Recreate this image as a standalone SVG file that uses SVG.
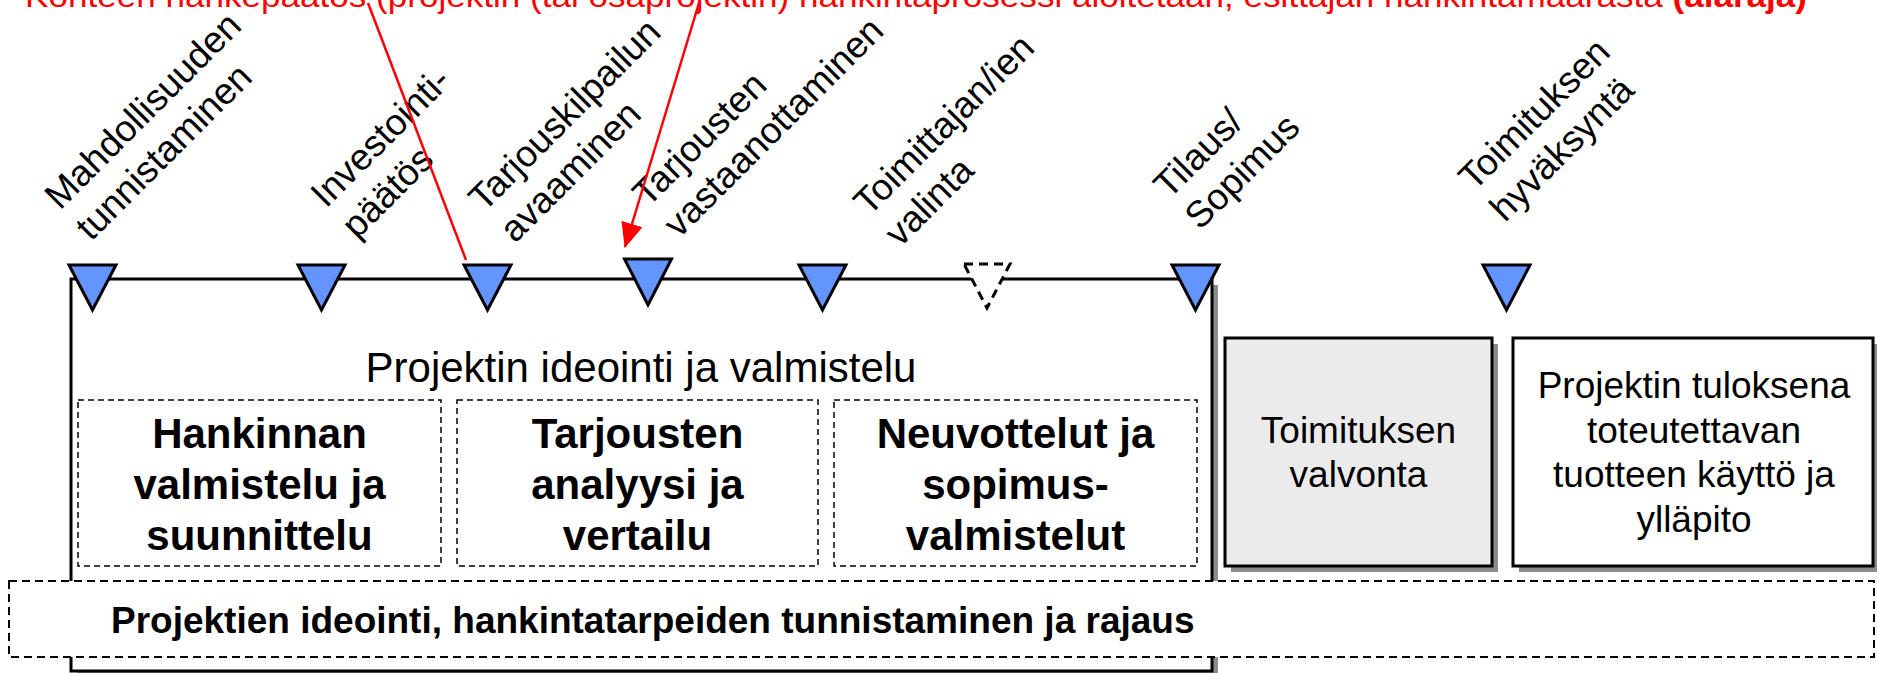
<svg xmlns="http://www.w3.org/2000/svg" width="1877" height="673" viewBox="0 0 1877 673">
  <style>
    text { font-family: "Liberation Sans", Arial, sans-serif; fill: #000; }
    .lbl { font-size: 37px; }
    .big { font-size: 42px; font-weight: bold; text-anchor: middle; }
    .mid { font-size: 37px; text-anchor: middle; }
    .ms { fill: #6495ff; stroke: #000; stroke-width: 3; stroke-linejoin: miter; }
    .ms-open { fill: #fff; stroke: #000; stroke-width: 3; stroke-dasharray: 9 6; }
    .frame { fill: #fff; stroke: #000; stroke-width: 3; }
    .shadow { fill: #8c8c8c; }
    .phase { fill: none; stroke: #000; stroke-width: 1.5; stroke-dasharray: 6 4; }
    .band { fill: #fff; stroke: #000; stroke-width: 2; stroke-dasharray: 8 5; }
    .note { stroke: #ff0000; stroke-width: 2.5; fill: none; }
  </style>
  <defs>
    <marker id="redHead" viewBox="0 0 25 22" refX="24" refY="11" markerWidth="25" markerHeight="22" orient="auto" markerUnits="userSpaceOnUse">
      <path d="M0,0 L25,11 L0,22 z" fill="#ff0000"/>
    </marker>
  </defs>

  <rect width="1877" height="673" fill="#fff"/>

  <!-- red note along the top edge -->
  <text x="25" y="7" font-size="32" style="fill:#ff0000" textLength="1782" lengthAdjust="spacingAndGlyphs">Kohteen hankepäätös (projektin (tai osaprojektin) hankintaprosessi aloitetaan, esittäjän hankintamäärästä <tspan font-weight="bold">(alaraja)</tspan></text>

  <!-- main phase frame -->
  <g id="phase-frame">
    <rect class="shadow" x="77" y="285" width="1141" height="392"/>
    <rect class="frame" x="71" y="279" width="1141" height="392"/>
    <text x="641" y="382" font-size="42" text-anchor="middle">Projektin ideointi ja valmistelu</text>
  </g>

  <g id="box-hankinnan">
    <rect class="phase" x="78" y="400" width="363" height="166"/>
    <text class="big"><tspan x="259.5" y="448">Hankinnan</tspan><tspan x="259.5" y="499">valmistelu ja</tspan><tspan x="259.5" y="550">suunnittelu</tspan></text>
  </g>
  <g id="box-tarjousten">
    <rect class="phase" x="457" y="400" width="361" height="166"/>
    <text class="big"><tspan x="637.5" y="448">Tarjousten</tspan><tspan x="637.5" y="499">analyysi ja</tspan><tspan x="637.5" y="550">vertailu</tspan></text>
  </g>
  <g id="box-neuvottelut">
    <rect class="phase" x="834" y="400" width="363" height="166"/>
    <text class="big"><tspan x="1015.5" y="448">Neuvottelut ja</tspan><tspan x="1015.5" y="499">sopimus-</tspan><tspan x="1015.5" y="550">valmistelut</tspan></text>
  </g>

  <g id="box-valvonta">
    <rect class="shadow" x="1231" y="344" width="267" height="228"/>
    <rect x="1225" y="338" width="267" height="228" fill="#ebebeb" stroke="#000" stroke-width="3"/>
    <text class="mid"><tspan x="1358.5" y="443">Toimituksen</tspan><tspan x="1358.5" y="487">valvonta</tspan></text>
  </g>
  <g id="box-kaytto">
    <rect class="shadow" x="1519" y="344" width="360" height="228"/>
    <rect class="frame" x="1513" y="338" width="360" height="228"/>
    <text class="mid"><tspan x="1694" y="398">Projektin tuloksena</tspan><tspan x="1694" y="443">toteutettavan</tspan><tspan x="1694" y="487">tuotteen käyttö ja</tspan><tspan x="1694" y="532">ylläpito</tspan></text>
  </g>

  <g id="band-ideointi">
    <rect class="band" x="9" y="581" width="1865" height="76"/>
    <text x="111" y="633" font-size="37" font-weight="bold">Projektien ideointi, hankintatarpeiden tunnistaminen ja rajaus</text>
  </g>

  <!-- milestones -->
  <g id="ms-mahdollisuuden">
    <path class="ms" d="M69,265 L116,265 L92.5,310 z"/>
    <text class="lbl" transform="translate(60,211) rotate(-45)"><tspan x="0" y="0">Mahdollisuuden</tspan><tspan x="0" y="44">tunnistaminen</tspan></text>
  </g>
  <g id="ms-investointi">
    <path class="ms" d="M298,265 L345,265 L321.5,310 z"/>
    <text class="lbl" transform="translate(326,209) rotate(-45)"><tspan x="0" y="0">Investointi-</tspan><tspan x="0" y="44">päätös</tspan></text>
  </g>
  <g id="ms-tarjouskilpailu">
    <path class="ms" d="M464,265 L511,265 L487.5,310 z"/>
    <text class="lbl" transform="translate(484,213) rotate(-45)"><tspan x="0" y="0">Tarjouskilpailun</tspan><tspan x="0" y="44">avaaminen</tspan></text>
  </g>
  <g id="ms-vastaanotto">
    <path class="ms" d="M624.5,259 L671.5,259 L648,305 z"/>
    <text class="lbl" transform="translate(648,208) rotate(-45)"><tspan x="0" y="0">Tarjousten</tspan><tspan x="0" y="44">vastaanottaminen</tspan></text>
  </g>
  <g id="ms-valinta">
    <path class="ms" d="M799,265 L846,265 L822.5,310 z"/>
    <text class="lbl" transform="translate(869,217) rotate(-45)"><tspan x="0" y="0">Toimittajan/ien</tspan><tspan x="0" y="44">valinta</tspan></text>
  </g>
  <g id="ms-optional">
    <path class="ms-open" d="M964,264 L1010,264 L987,308 z"/>
  </g>
  <g id="ms-sopimus">
    <path class="ms" d="M1172,265 L1219,265 L1195.5,310 z"/>
    <text class="lbl" transform="translate(1169,200) rotate(-45)"><tspan x="0" y="0">Tilaus/</tspan><tspan x="0" y="44">Sopimus</tspan></text>
  </g>
  <g id="ms-hyvaksynta">
    <path class="ms" d="M1483,265 L1530,265 L1506.5,310 z"/>
    <text class="lbl" transform="translate(1474,192) rotate(-45)"><tspan x="0" y="0">Toimituksen</tspan><tspan x="0" y="44">hyväksyntä</tspan></text>
  </g>

  <!-- red pointers from the note -->
  <g id="connectors">
    <line class="note" x1="368" y1="3" x2="466" y2="260"/>
    <line class="note" x1="699" y1="3" x2="625" y2="247" marker-end="url(#redHead)"/>
  </g>
</svg>
